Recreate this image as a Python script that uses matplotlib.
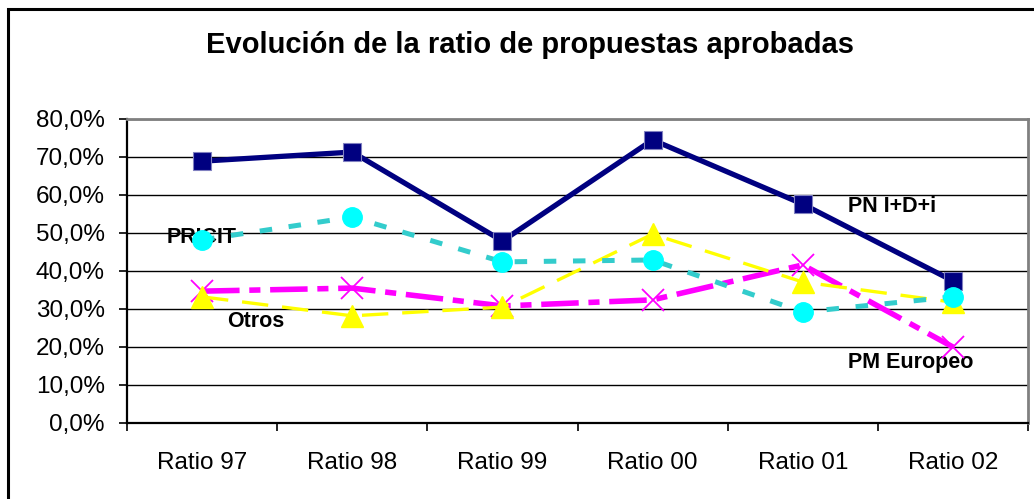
import matplotlib.pyplot as plt
import matplotlib.patches as mpatches
from matplotlib.ticker import FuncFormatter, FixedLocator

plt.rcParams['font.family'] = ['Liberation Sans', 'DejaVu Sans']
plt.rcParams['lines.scale_dashes'] = False

# data
categories = ['Ratio 97', 'Ratio 98', 'Ratio 99', 'Ratio 00', 'Ratio 01', 'Ratio 02']
pn_idi = [68.9, 71.3, 47.9, 74.5, 57.6, 37.4]
pricit = [48.2, 54.2, 42.4, 42.9, 29.2, 33.2]
otros = [33.2, 28.2, 30.5, 49.7, 37.1, 31.8]
pm_europeo = [34.7, 35.5, 30.8, 32.4, 41.6, 20.0]
y_ticks = [0, 10, 20, 30, 40, 50, 60, 70, 80]

fig = plt.figure(figsize=(10.34, 4.99), dpi=100)
ax = fig.add_axes([127 / 1034, 1 - 423 / 499, 901 / 1034, 304 / 499])

# outer chart frame (runs off right/bottom edge like the original)
fig.patches.append(mpatches.Rectangle((8 / 1034, -0.05), 1.1, 1 - 9 / 499 + 0.05,
                                      transform=fig.transFigure, fill=False,
                                      edgecolor='black', linewidth=2.2, zorder=0))

x = list(range(len(categories)))

ax.plot(x, pn_idi, color='#000080', lw=3.8, marker='s', markersize=13.5,
        markerfacecolor='#000080', markeredgecolor='#8080c0', markeredgewidth=0.8, zorder=3)
ax.plot(x, pm_europeo, color='#ff00ff', lw=4.0, dashes=[27, 7, 8, 7],
        marker='x', markersize=16, markeredgewidth=1.3, zorder=4)
ax.plot(x, otros, color='#ffff00', lw=2.4, dashes=[19, 10],
        marker='^', markersize=15.5, markeredgecolor='#ffff00', zorder=5)
ax.plot(x, pricit, color='#33cccc', lw=3.6, dashes=[9, 12],
        marker='o', markersize=14, markerfacecolor='#00ffff', markeredgecolor='#00ffff', zorder=6)

ax.set_xlim(-0.5, len(categories) - 0.5)
ax.set_ylim(0, 80)
ax.set_yticks(y_ticks)
ax.yaxis.set_major_formatter(FuncFormatter(lambda v, p: f'{v:.1f}%'.replace('.', ',')))
ax.yaxis.grid(True, color='black', lw=1.0)
ax.set_axisbelow(True)

ax.set_xticks(x)
ax.set_xticklabels(categories)
ax.xaxis.set_minor_locator(FixedLocator([i - 0.5 for i in range(len(categories) + 1)]))
ax.tick_params(axis='x', which='major', length=0, pad=21, labelsize=17.5)
ax.tick_params(axis='x', which='minor', length=6, width=1.2, direction='out')
ax.tick_params(axis='y', length=6, width=1.2, direction='out', pad=10, labelsize=17.5)

for side in ['left', 'bottom']:
    ax.spines[side].set_linewidth(1.6)
    ax.spines[side].set_color('black')
for side in ['top', 'right']:
    ax.spines[side].set_linewidth(2.0)
    ax.spines[side].set_color('#808080')

fig.text(530 / 1034, 1 - 45 / 499, 'Evolución de la ratio de propuestas aprobadas',
         ha='center', va='center', fontsize=21, fontweight='bold')

lbl = dict(fontsize=15.5, fontweight='bold', va='center', ha='left')
ax.text(-0.233, 48.9, 'PRICIT', **lbl)
ax.text(0.167, 26.6, 'Otros', **lbl)
ax.text(4.3, 56.9, 'PN I+D+i', **lbl)
ax.text(4.3, 16.0, 'PM Europeo', **lbl)

fig.savefig('out.png', dpi=100)
